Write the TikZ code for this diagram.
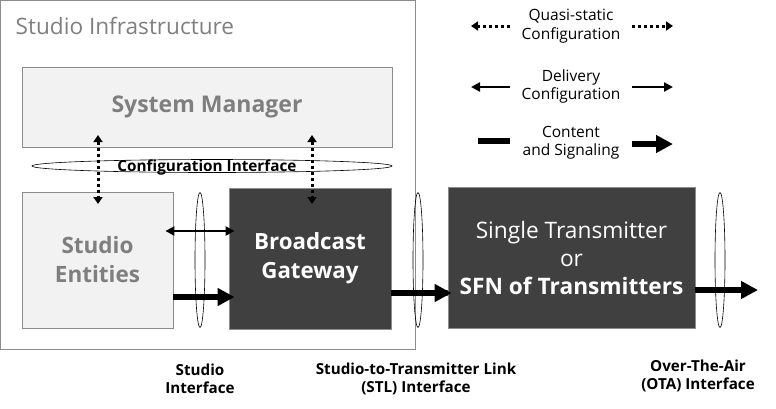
\documentclass[tikz,border=0pt]{standalone}
\usepackage{fontspec}
\setmainfont{Open Sans}
\usetikzlibrary{arrows.meta,shapes.geometric}
\definecolor{boxgray}{HTML}{8C8C8C}
\definecolor{lightfill}{HTML}{F2F2F2}
\definecolor{darkfill}{HTML}{404040}
\definecolor{txtgray}{HTML}{7F7F7F}
\begin{document}
\begin{tikzpicture}[x=1pt,y=-1pt,
  lightbox/.style={draw=boxgray, fill=lightfill, line width=0.8pt, inner sep=0pt, align=center, text=txtgray, font=\bfseries\fontsize{22.5}{29}\selectfont},
  darkbox/.style={draw=boxgray, fill=darkfill, line width=0.8pt, inner sep=0pt, align=center, text=white, font=\fontsize{22.7}{28}\selectfont},
  ifell/.style={draw, ellipse, line width=0.6pt, inner sep=0pt},
  qtip/.tip={Triangle[width=9pt,length=7pt]},
  quasi/.style={dash pattern=on 3pt off 3pt, line width=3pt, -qtip},
  deliv/.style={line width=2.2pt, -{Triangle[width=9pt,length=9pt]}},
  content/.style={line width=6pt, -{Triangle[width=17pt,length=17pt]}},
  lbl/.style={align=center, inner sep=0pt, font=\fontsize{15.5}{18.5}\selectfont},
  blbl/.style={align=center, inner sep=0pt, font=\bfseries\fontsize{15.2}{18}\selectfont}
]
\useasboundingbox (0,0) rectangle (776,408);
% studio infrastructure
\node[draw=boxgray, line width=0.8pt, minimum width=415pt, minimum height=349pt, inner sep=0pt] (infra) at (208,175) {};
\node[anchor=west, inner sep=0pt, text=txtgray, font=\fontsize{22.6}{26}\selectfont] (infratitle) at (15.5,26) {Studio Infrastructure};
% boxes
\node[lightbox, font=\bfseries\fontsize{23}{29}\selectfont, minimum width=370pt, minimum height=80pt] (sm) at (207,107) {System Manager};
\node[lightbox, minimum width=151pt, minimum height=136pt] (se) at (97.5,260) {Studio\\Entities};
\node[darkbox, font=\bfseries\fontsize{22.3}{29}\selectfont, minimum width=162pt, minimum height=141pt] (bg) at (310,258.5) {Broadcast\\Gateway};
\node[darkbox, minimum width=247pt, minimum height=141pt] (tx) at (571.5,258) {Single Transmitter\\or\\\textbf{SFN of Transmitters}};
% config interface
\node[ifell, minimum width=360pt, minimum height=13pt] (cfg) at (212,166) {};
\node[inner sep=0pt, font=\bfseries\fontsize{15.3}{16}\selectfont] (cfgtxt) at (207,167) {Configuration Interface};
% quasi static arrows
\coordinate (q1t) at (98,135);
\coordinate (q1b) at (98,204);
\coordinate (q2t) at (312,135);
\coordinate (q2b) at (312,204);
\draw[quasi, qtip-qtip] (q1t) -- (q1b);
\draw[quasi, qtip-qtip] (q2t) -- (q2b);
% interface ellipses
\node[ifell, minimum width=10pt, minimum height=135pt] (sif) at (200,260) {};
\node[ifell, minimum width=10pt, minimum height=135pt] (stl) at (418,260) {};
\node[ifell, minimum width=10pt, minimum height=135pt] (ota) at (720,260) {};
% connectors
\draw[deliv, {Triangle[width=9pt,length=9pt]}-{Triangle[width=9pt,length=9pt]}] (se.east |- 0,231) ++(-8,0) -- (bg.west |- 0,231) -- ++(6,0);
\draw[content] (se.east |- 0,297) -- (bg.west |- 0,297) -- ++(6,0);
\draw[content] (bg.east |- 0,293) -- (tx.west |- 0,293) -- ++(4,0);
\coordinate (out) at (758,290);
\draw[content] (tx.east |- out) -- (out);
% bottom labels
\node[blbl] (lsif) at (200,379) {Studio\\Interface};
\node[blbl] (lstl) at (416,379) {Studio-to-Transmitter Link\\(STL) Interface};
\node[blbl] (lota) at (698,376) {Over-The-Air\\(OTA) Interface};
% legend
\node[lbl] (lq) at (571,26) {Quasi-static\\Configuration};
\node[lbl] (ld) at (571,86.5) {Delivery\\Configuration};
\node[lbl] (lc) at (571,142.5) {Content\\and Signaling};
\coordinate (lqa) at (510,26); \coordinate (lqb) at (471,26);
\coordinate (lqc) at (632,26); \coordinate (lqd) at (673,26);
\draw[quasi] (lqa) -- (lqb);
\draw[quasi] (lqc) -- (lqd);
\coordinate (lda) at (510,87); \coordinate (ldb) at (471,87);
\coordinate (ldc) at (632,87); \coordinate (ldd) at (673,87);
\draw[deliv] (lda) -- (ldb);
\draw[deliv] (ldc) -- (ldd);
\coordinate (lca) at (478,141); \coordinate (lcb) at (510,141);
\coordinate (lcc) at (632,144); \coordinate (lcd) at (673,144);
\draw[line width=6pt] (lca) -- (lcb);
\draw[content] (lcc) -- (lcd);
\end{tikzpicture}
\end{document}
